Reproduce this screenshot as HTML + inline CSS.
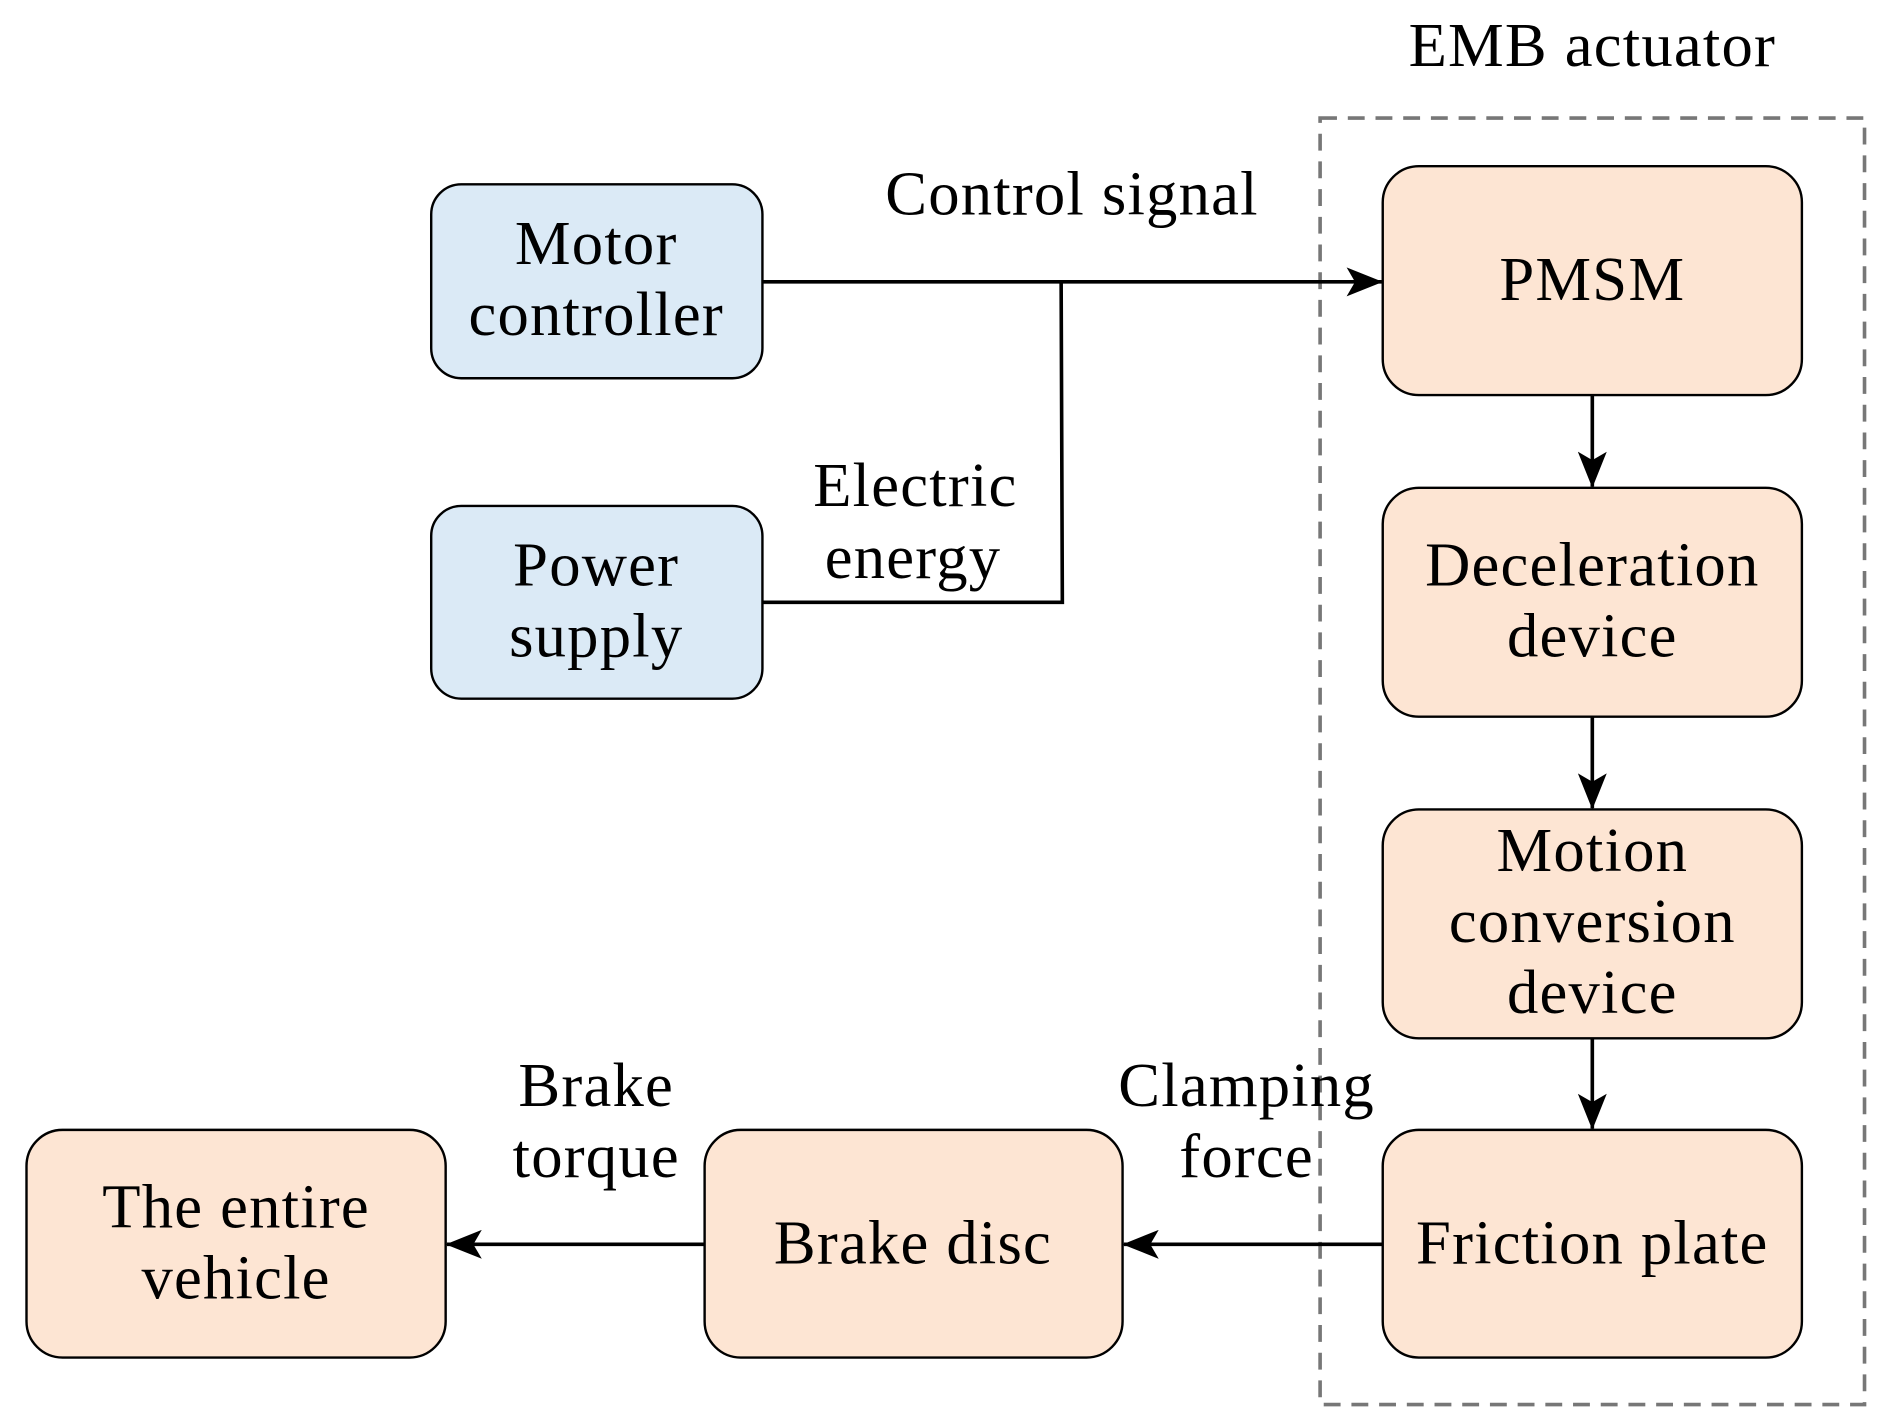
<!DOCTYPE html>
<html><head><meta charset="utf-8"><style>
html,body{margin:0;padding:0;background:#fff;}
svg{display:block}
text{font-family:"Liberation Serif",serif;font-size:52px;letter-spacing:1px;fill:#000;text-anchor:middle}
</style></head><body>
<svg width="1885" height="1425" viewBox="0 0 1565 1183" preserveAspectRatio="none" xmlns="http://www.w3.org/2000/svg">
<defs>
<marker id="b" markerWidth="30" markerHeight="24" refX="29" refY="12" orient="auto" markerUnits="userSpaceOnUse" viewBox="0 0 30 24">
<path d="M0,0 L30,12 L0,24 L7,12 Z" fill="#000"/>
</marker>
</defs>
<rect x="1096" y="98" width="452" height="1068" fill="none" stroke="#777" stroke-width="3" stroke-dasharray="14,9"/>
<g stroke="#000" stroke-width="2">
<rect x="358" y="153" width="275" height="161" rx="25" fill="#dbeaf6"/>
<rect x="358" y="420" width="275" height="160" rx="25" fill="#dbeaf6"/>
<rect x="1148" y="138" width="348" height="190" rx="30" fill="#fde5d3"/>
<rect x="1148" y="405" width="348" height="190" rx="30" fill="#fde5d3"/>
<rect x="1148" y="672" width="348" height="190" rx="30" fill="#fde5d3"/>
<rect x="1148" y="938" width="348" height="189" rx="30" fill="#fde5d3"/>
<rect x="585" y="938" width="347" height="189" rx="30" fill="#fde5d3"/>
<rect x="22" y="938" width="348" height="189" rx="30" fill="#fde5d3"/>
</g>
<g stroke="#000" stroke-width="3" fill="none">
<line x1="633" y1="234" x2="1147" y2="234" marker-end="url(#b)"/>
<polyline points="881,234 882,500 633,500"/>
<line x1="1322" y1="328" x2="1322" y2="404" marker-end="url(#b)"/>
<line x1="1322" y1="595" x2="1322" y2="671" marker-end="url(#b)"/>
<line x1="1322" y1="862" x2="1322" y2="937" marker-end="url(#b)"/>
<line x1="1148" y1="1033" x2="933" y2="1033" marker-end="url(#b)"/>
<line x1="585" y1="1033" x2="371" y2="1033" marker-end="url(#b)"/>
</g>
<text x="1322" y="55">EMB actuator</text>
<text x="890" y="178">Control signal</text>
<text x="495" y="219">Motor</text>
<text x="495" y="278">controller</text>
<text x="495" y="486">Power</text>
<text x="495" y="545">supply</text>
<text x="760" y="420">Electric</text>
<text x="758" y="480">energy</text>
<text x="1322" y="249">PMSM</text>
<text x="1322" y="486">Deceleration</text>
<text x="1322" y="545">device</text>
<text x="1322" y="723">Motion</text>
<text x="1322" y="782">conversion</text>
<text x="1322" y="841">device</text>
<text x="1322" y="1049">Friction plate</text>
<text x="758" y="1049">Brake disc</text>
<text x="196" y="1019">The entire</text>
<text x="196" y="1078">vehicle</text>
<text x="495" y="918">Brake</text>
<text x="495" y="977">torque</text>
<text x="1035" y="918">Clamping</text>
<text x="1035" y="977">force</text>
</svg>
</body></html>
